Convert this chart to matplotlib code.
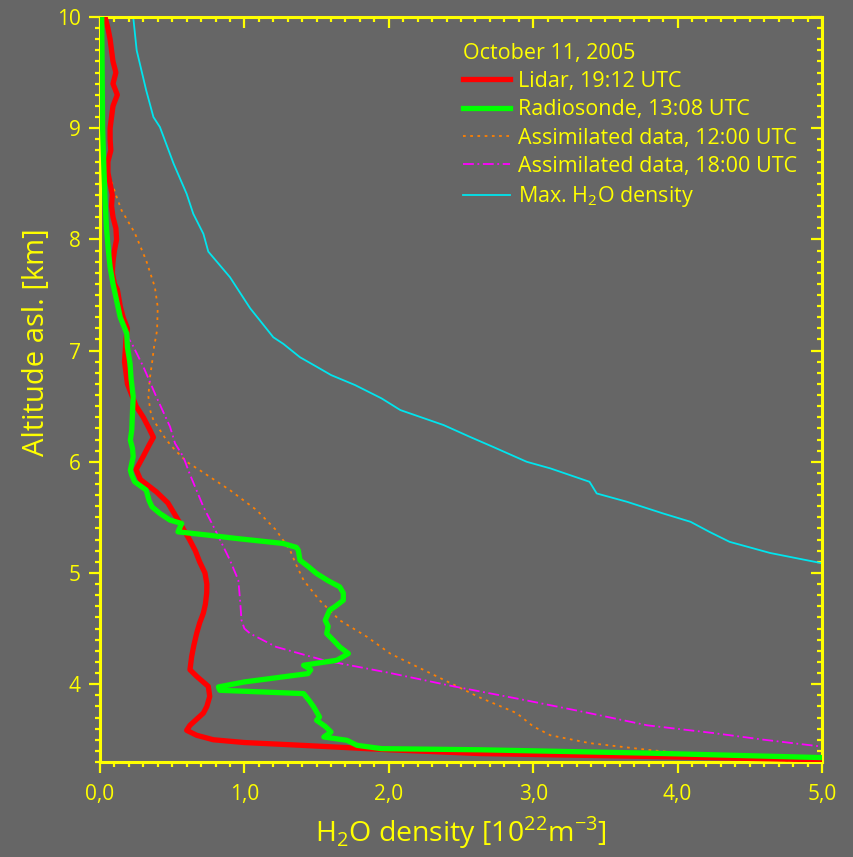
import numpy as np
import matplotlib.pyplot as plt
from matplotlib.ticker import MultipleLocator, FixedLocator

plt.rcParams['font.family'] = ['Open Sans', 'DejaVu Sans']

# Lidar, 19:12 UTC
lidar_alt = [10.0, 9.9, 9.8, 9.7, 9.6, 9.5, 9.4, 9.3, 9.2, 9.1, 9.0, 8.9, 8.8, 8.7, 8.6,
             8.5, 8.4, 8.3, 8.2, 8.1, 8.0, 7.9, 7.8, 7.7, 7.6, 7.55, 7.4, 7.3, 7.2, 7.1,
             7.0, 6.9, 6.8, 6.7, 6.6, 6.5, 6.4, 6.3, 6.22, 6.15, 6.05, 5.93, 5.84, 5.73,
             5.63, 5.5, 5.42, 5.3, 5.2, 5.1, 5.0, 4.9, 4.82, 4.72, 4.64, 4.55, 4.46, 4.35,
             4.25, 4.13, 4.07, 3.98, 3.89, 3.8, 3.74, 3.63, 3.585, 3.54, 3.5, 3.475, 3.455,
             3.43, 3.41, 3.376, 3.35, 3.32]
lidar_rho = [0.035, 0.055, 0.07, 0.08, 0.09, 0.11, 0.09, 0.12, 0.09, 0.08, 0.07, 0.07, 0.075, 0.055, 0.055,
             0.07, 0.085, 0.08, 0.09, 0.11, 0.115, 0.10, 0.09, 0.085, 0.10, 0.12, 0.14, 0.16, 0.19, 0.18,
             0.175, 0.17, 0.18, 0.19, 0.22, 0.25, 0.30, 0.34, 0.37, 0.34, 0.30, 0.25, 0.28, 0.39,
             0.47, 0.53, 0.566, 0.62, 0.66, 0.69, 0.727, 0.74, 0.739, 0.73, 0.716, 0.69, 0.67, 0.65,
             0.635, 0.623, 0.67, 0.75, 0.76, 0.74, 0.716, 0.623, 0.60, 0.67, 0.785, 1.0, 1.32,
             1.7, 2.0, 2.63, 3.79, 4.99]

# Radiosonde, 13:08 UTC
sonde_alt = [10.0, 9.5, 9.0, 8.6, 8.35, 8.1, 7.9, 7.75, 7.6, 7.45, 7.3, 7.155, 7.03, 6.885, 6.75,
             6.585, 6.45, 6.285, 6.195, 6.12, 6.045, 5.925, 5.88, 5.82, 5.745, 5.65, 5.595, 5.535,
             5.475, 5.445, 5.40, 5.37, 5.34, 5.31, 5.265, 5.23, 5.205, 5.115, 5.06, 4.995, 4.93,
             4.875, 4.82, 4.755, 4.70, 4.665, 4.575, 4.52, 4.455, 4.39, 4.335, 4.275, 4.215, 4.17,
             4.13, 4.095, 4.02, 3.975, 3.945, 3.915, 3.85, 3.795, 3.705, 3.675, 3.62, 3.57, 3.525,
             3.495, 3.45, 3.42, 3.41, 3.38, 3.34]
sonde_rho = [0.012, 0.015, 0.018, 0.028, 0.035, 0.045, 0.058, 0.07, 0.09, 0.115, 0.14, 0.185, 0.19, 0.208, 0.215,
             0.23, 0.225, 0.22, 0.21, 0.225, 0.23, 0.21, 0.22, 0.24, 0.32, 0.34, 0.36, 0.415,
             0.485, 0.566, 0.55, 0.54, 0.75, 0.947, 1.27, 1.36, 1.373, 1.385, 1.44, 1.50, 1.58,
             1.66, 1.685, 1.685, 1.63, 1.59, 1.56, 1.58, 1.57, 1.62, 1.66, 1.72, 1.64, 1.41,
             1.46, 1.44, 1.0, 0.82, 0.83, 1.41, 1.45, 1.48, 1.52, 1.50, 1.56, 1.60, 1.55,
             1.71, 1.78, 1.95, 2.63, 3.79, 4.99]

# Assimilated data, 12:00 UTC
as12_alt = [10.0, 9.5, 9.0, 8.8, 8.65, 8.56, 8.4, 8.26, 8.06, 7.81, 7.57, 7.39, 7.18, 7.03, 6.885,
            6.75, 6.585, 6.45, 6.375, 6.285, 6.195, 6.105, 6.0, 5.925, 5.745, 5.565, 5.385, 5.205,
            5.07, 4.935, 4.755, 4.575, 4.425, 4.275, 4.10, 3.88, 3.74, 3.62, 3.54, 3.47, 3.41,
            3.38, 3.33, 3.30]
as12_rho = [0.005, 0.008, 0.015, 0.025, 0.046, 0.07, 0.11, 0.15, 0.24, 0.32, 0.38, 0.40, 0.395, 0.374, 0.36,
            0.345, 0.335, 0.35, 0.37, 0.415, 0.46, 0.52, 0.60, 0.69, 0.90, 1.085, 1.22, 1.316,
            1.36, 1.41, 1.52, 1.66, 1.85, 2.01, 2.285, 2.63, 2.885, 3.0, 3.12, 3.39, 3.79,
            4.02, 4.48, 4.94]

# Assimilated data, 18:00 UTC
as18_alt = [10.0, 9.5, 9.0, 8.5, 8.06, 7.8, 7.6, 7.4, 7.16, 7.065, 6.855, 6.585, 6.315, 6.165, 6.045,
            5.895, 5.595, 5.355, 5.115, 4.935, 4.755, 4.575, 4.50, 4.455, 4.335, 4.215, 4.10, 3.98,
            3.86, 3.75, 3.63, 3.56, 3.50, 3.44]
as18_rho = [0.01, 0.012, 0.016, 0.025, 0.046, 0.065, 0.092, 0.12, 0.17, 0.22, 0.30, 0.39, 0.485, 0.52, 0.577,
            0.62, 0.716, 0.81, 0.90, 0.958, 0.97, 0.98, 1.0, 1.04, 1.22, 1.55, 2.01, 2.45,
            2.93, 3.35, 3.79, 4.25, 4.6, 4.99]

# Max. H2O density
max_alt = [10.0, 9.7, 9.34, 9.1, 9.01, 8.68, 8.41, 8.23, 8.05, 7.89, 7.66, 7.48, 7.38, 7.27, 7.12,
           7.06, 6.94, 6.855, 6.78, 6.69, 6.57, 6.465, 6.33, 6.225, 6.135, 6.0, 5.94, 5.82, 5.715,
           5.64, 5.535, 5.46, 5.37, 5.28, 5.18, 5.09]
max_rho = [0.23, 0.254, 0.32, 0.37, 0.415, 0.51, 0.60, 0.646, 0.716, 0.75, 0.90, 0.99, 1.04, 1.108, 1.20,
           1.27, 1.385, 1.50, 1.60, 1.766, 1.95, 2.08, 2.38, 2.56, 2.72, 2.955, 3.12, 3.39, 3.44,
           3.65, 3.90, 4.09, 4.22, 4.36, 4.64, 4.99]

xticks = [0, 1, 2, 3, 4, 5]
xticklabels = ['0,0', '1,0', '2,0', '3,0', '4,0', '5,0']
yticks = [4, 5, 6, 7, 8, 9, 10]

bg = '#666666'
yel = '#ffff00'

fig = plt.figure(figsize=(8.54, 8.57), dpi=100, facecolor=bg)
ax = fig.add_axes([100 / 854, 1 - 762 / 857, 722 / 854, 745 / 857], facecolor=bg)

ax.plot(max_rho, max_alt, color='#00e5ee', lw=1.3, label=r'Max. H$_\mathregular{2}$O density', zorder=2)
ax.plot(as12_rho, as12_alt, color='#ff8000', lw=1.3, ls=(0, (1.5, 2.5)),
        label='Assimilated data, 12:00 UTC', zorder=3)
ax.plot(as18_rho, as18_alt, color='#ff00ff', lw=1.3, ls=(0, (6, 2, 1, 2)),
        label='Assimilated data, 18:00 UTC', zorder=3)
ax.plot(lidar_rho, lidar_alt, color='#ff0000', lw=3.8, label='Lidar, 19:12 UTC', zorder=4)
ax.plot(sonde_rho, sonde_alt, color='#00ff00', lw=3.8, label='Radiosonde, 13:08 UTC', zorder=5)

ax.set_xlim(0, 5)
ax.set_ylim(3.3, 10)

# achsen gelb
for s in ax.spines.values():
    s.set_color(yel)
    s.set_linewidth(2.2)

ax.xaxis.set_major_locator(FixedLocator(xticks))
ax.set_xticklabels(xticklabels)
ax.xaxis.set_minor_locator(MultipleLocator(0.1))
ax.yaxis.set_major_locator(FixedLocator(yticks))
ax.yaxis.set_minor_locator(MultipleLocator(0.1))

ax.tick_params(which='both', colors=yel, labelcolor=yel, labelsize=15, width=1.6)
ax.tick_params(which='major', length=8)
ax.tick_params(which='minor', length=3.8)
ax.tick_params(axis='x', which='both', top=True, direction='out', pad=8)
ax.tick_params(axis='y', which='both', right=True, direction='out', pad=6)
# oben/rechts nach innen
for t in ax.xaxis.get_major_ticks() + ax.xaxis.get_minor_ticks():
    t.tick2line.set_marker(3)
for t in ax.yaxis.get_major_ticks() + ax.yaxis.get_minor_ticks():
    t.tick2line.set_marker(0)

ax.set_xlabel(r'H$_\mathregular{2}$O density [10$^\mathregular{22}$m$^\mathregular{-3}$]',
              color=yel, fontsize=20.5)
ax.set_ylabel('Altitude asl. [km]', color=yel, fontsize=21)
ax.xaxis.set_label_coords(0.5, -0.071)
ax.yaxis.set_label_coords(-0.068, 0.564)

# legende
h, l = ax.get_legend_handles_labels()
order = [3, 4, 1, 2, 0]
leg = ax.legend([h[i] for i in order], [l[i] for i in order], title='October 11, 2005',
                loc='upper left', bbox_to_anchor=(0.4875, 0.98), frameon=False,
                fontsize=15.5, title_fontsize=15.5, handlelength=2.2, handletextpad=0.35,
                labelspacing=0.34, alignment='left', borderpad=0)
for t in leg.get_texts():
    t.set_color(yel)
leg.get_title().set_color(yel)

plt.savefig('out.png', dpi=100, facecolor=bg)
